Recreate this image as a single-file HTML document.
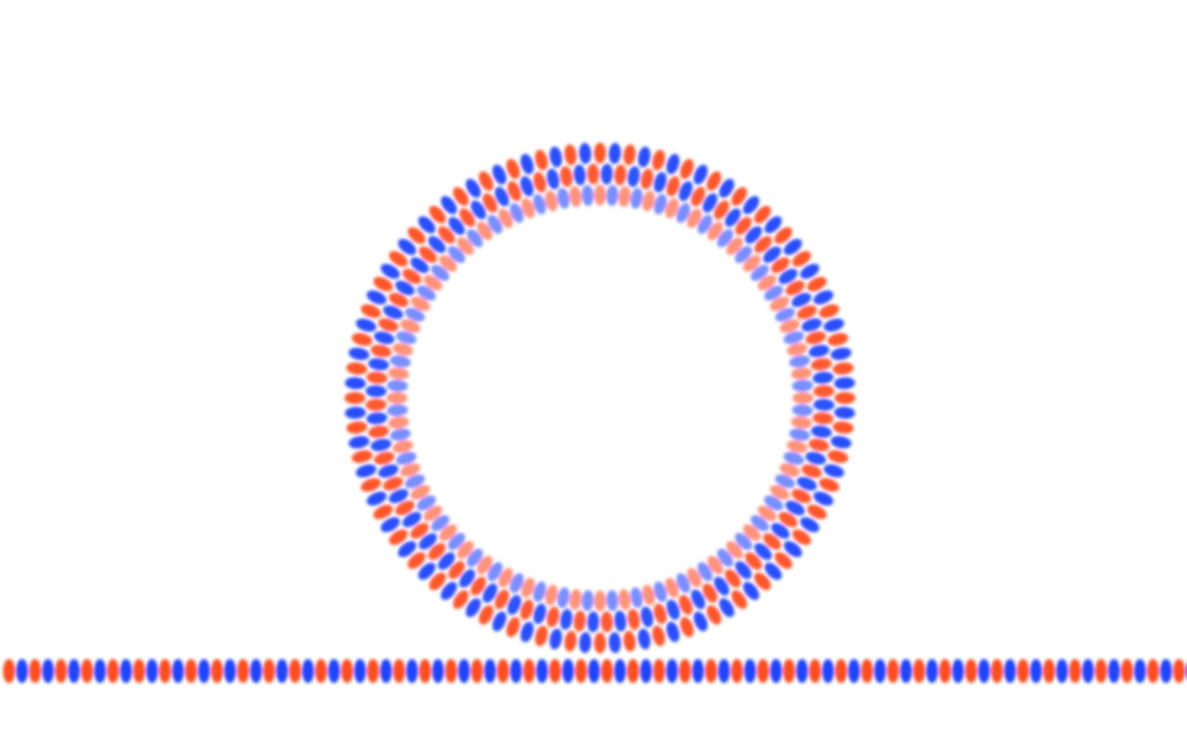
<!DOCTYPE html>
<html><head><meta charset="utf-8"><style>
html,body{margin:0;padding:0;background:#fff;width:1187px;height:755px;overflow:hidden}
svg{display:block}
</style></head><body>
<svg id="field" width="1187" height="755" viewBox="0 0 1187 755" xmlns="http://www.w3.org/2000/svg">
<defs><filter id="bl" x="-20%" y="-20%" width="140%" height="140%"><feGaussianBlur stdDeviation="1.6"/></filter></defs>
<g id="wg" filter="url(#bl)"></g>
<g id="ring" filter="url(#bl)"></g>
</svg>
<script>
const ringLayers = [245, 224, 203];
const layerOpacity = [0.95, 0.92, 0.6];
const layerPhase = [0, 0.5, 0.0];
const blobsPerLayer = 104;
const wgPeriod = 26;
const NS = 'http://www.w3.org/2000/svg';
const RED = '#ff4d1f', BLUE = '#1a44ff';
const cx = 600, cy = 398, wy = 671;
const wg = document.getElementById('wg');
for (let i = 0; i * wgPeriod / 2 < 1200; i++) {
  const e = document.createElementNS(NS, 'ellipse');
  
  
  e.setAttribute('cx', 9 + i * wgPeriod / 2);
  e.setAttribute('cy', wy);
  e.setAttribute('rx', 6);
  e.setAttribute('ry', 12);
  e.setAttribute('fill', i % 2 ? BLUE : RED);
  wg.appendChild(e);
}
const ring = document.getElementById('ring');
ringLayers.forEach((r, L) => {
  for (let k = 0; k < blobsPerLayer; k++) {
    const a = (k + layerPhase[L]) / blobsPerLayer * 2 * Math.PI;
    const x = cx + r * Math.cos(a), y = cy + r * Math.sin(a);
    const e = document.createElementNS(NS, 'ellipse');
    
    
    e.setAttribute('cx', x.toFixed(1));
    e.setAttribute('cy', y.toFixed(1));
    e.setAttribute('rx', 10.5);
    e.setAttribute('ry', 6);
    e.setAttribute('transform', `rotate(${(a * 180 / Math.PI).toFixed(1)} ${x.toFixed(1)} ${y.toFixed(1)})`);
    e.setAttribute('fill', (k + L) % 2 ? BLUE : RED);
    e.setAttribute('opacity', layerOpacity[L]);
    ring.appendChild(e);
  }
});
</script>
</body></html>
